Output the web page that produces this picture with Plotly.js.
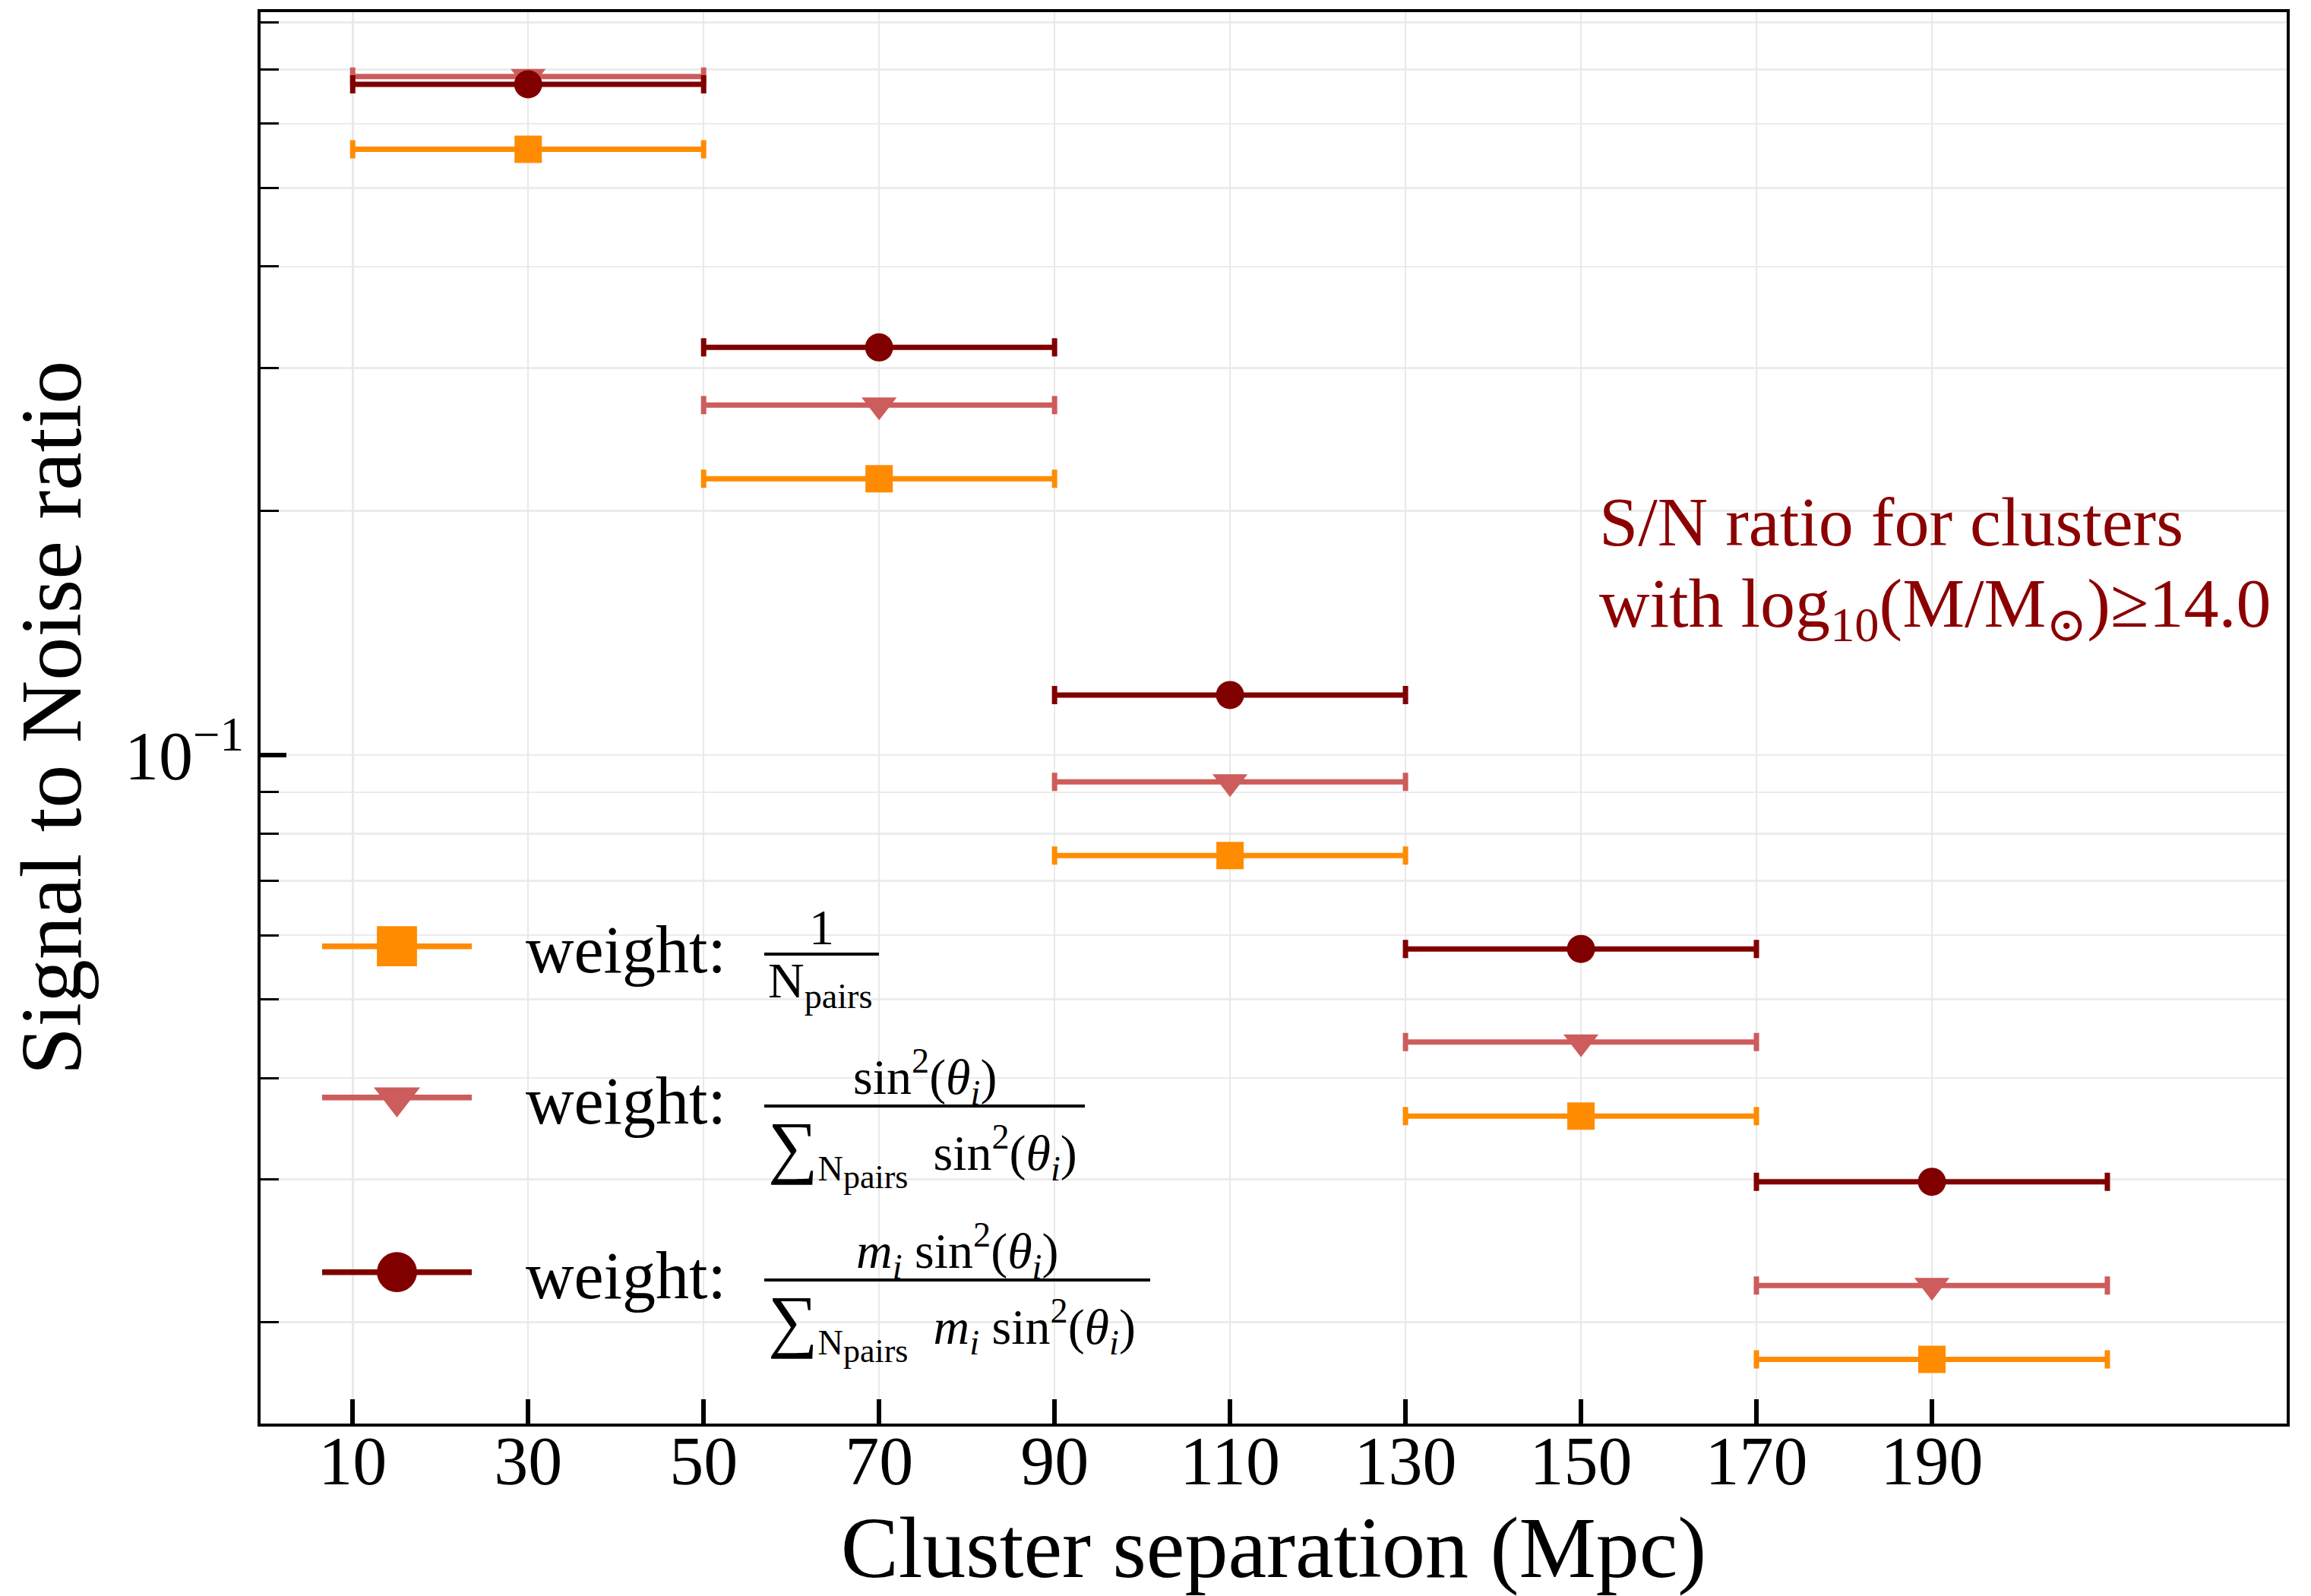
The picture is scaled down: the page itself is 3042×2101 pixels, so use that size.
<!DOCTYPE html>
<html>
<head>
<meta charset="utf-8">
<script src="https://cdn.plot.ly/plotly-3.0.1.min.js"></script>
<style>html,body{margin:0;padding:0;background:#fff;}#chart{width:3042px;height:2101px;}</style>
</head>
<body>
<div id="chart"></div>
<script>
// ---- data ----
const separation = [30, 70, 110, 150, 190];          // bin centres (Mpc)
const binHalfWidth = [20, 20, 20, 20, 20];            // horizontal error (bin half width)
const snrInvNpairs = [0.558, 0.219, 0.0752, 0.0359, 0.0180];   // weight 1/Npairs
const snrSin2 = [0.686, 0.270, 0.0927, 0.0443, 0.0222];        // weight sin^2
const snrMassSin2 = [0.671, 0.318, 0.1186, 0.0577, 0.0298];    // weight m sin^2
const xTickVals = [10, 30, 50, 70, 90, 110, 130, 150, 170, 190];
const yMajorTicks = [0.1];
const yMajorText = ['10<sup>−1</sup>'];
const yMinorTicks = [0.02, 0.03, 0.04, 0.05, 0.06, 0.07, 0.08, 0.09, 0.2, 0.3, 0.4, 0.5, 0.6, 0.7, 0.8];
const legendLabel = '\u2002\u00a0weight:';

// ---- geometry helpers ----
const W = 3042, H = 2101, ML = 343, MR = 32, MT = 16, MB = 227;
const PW = W - ML - MR, PH = H - MT - MB;
const px = v => (v - ML) / PW;
const py = v => (H - MB - v) / PH;

const FONT = 'Liberation Serif, DejaVu Serif, serif';
const cOrange = '#ff8c00', cPink = '#cd5c5c', cDark = '#800000', cText = '#8b0000';

function dataTrace(y, color, symbol, size) {
  return {
    type: 'scatter', mode: 'markers', x: separation, y: y, showlegend: false,
    marker: {symbol: symbol, size: size, color: color, line: {width: 0}},
    error_x: {type: 'data', array: binHalfWidth, symmetric: true, color: color, thickness: 7, width: 12},
    cliponaxis: false, hoverinfo: 'skip'
  };
}
function legendTrace(color, symbol, legendId) {
  return {
    type: 'scatter', mode: 'lines+markers', x: [null], y: [null], name: legendLabel, legend: legendId,
    line: {color: color, width: 7.5}, marker: {symbol: symbol, size: 16, color: color}, hoverinfo: 'skip'
  };
}

const data = [
  dataTrace(snrInvNpairs, cOrange, 'square', 36),
  dataTrace(snrSin2, cPink, 'triangle-down', 40),
  dataTrace(snrMassSin2, cDark, 'circle', 37),
  legendTrace(cOrange, 'square', 'legend'),
  legendTrace(cPink, 'triangle-down', 'legend2'),
  legendTrace(cDark, 'circle', 'legend3')
];

function legendBox(yc) {
  return {x: px(419), xanchor: 'left', y: py(yc), yanchor: 'middle', itemwidth: 197,
          bgcolor: 'rgba(0,0,0,0)', borderwidth: 0, font: {family: FONT, size: 88, color: '#000'}};
}

const fracFont = {family: FONT, size: 66, color: '#000'};
const SUM = '<span style="font-size:92px">∑</span><sub>N<sub><span style="font-size:44px">pairs</span></sub></sub>';
const SIN = 'sin<sup>2</sup>(<i>θ</i><sub><i>i</i></sub>)';
const MI = '<i>m</i><sub><i>i</i></sub>';
const GAP = '\u00a0\u00a0';

function ann(text, x, y, xanchor, yanchor, font) {
  return {text: text, xref: 'paper', yref: 'paper', x: px(x), y: py(y), xanchor: xanchor, yanchor: yanchor,
          showarrow: false, font: font, align: 'left'};
}
function bar(x0, x1, y) {
  return {type: 'line', xref: 'paper', yref: 'paper', x0: px(x0), x1: px(x1), y0: py(y), y1: py(y),
          line: {color: '#000', width: 4}};
}
const noteFont = {family: FONT, size: 92, color: cText};

const layout = {
  width: W, height: H,
  margin: {l: ML, r: MR, t: MT, b: MB, pad: 0},
  paper_bgcolor: '#fff', plot_bgcolor: '#fff',
  font: {family: FONT, color: '#000'},
  xaxis: {
    range: [-0.5, 230.44], tickmode: 'array', tickvals: xTickVals,
    ticks: 'inside', ticklen: 32, tickwidth: 6, tickcolor: '#000', ticklabelstandoff: -32,
    showline: true, linecolor: '#000', linewidth: 4, mirror: true,
    showgrid: true, gridcolor: '#e9e9e9', gridwidth: 2.5, zeroline: false,
    tickfont: {family: FONT, size: 90, color: '#000'},
    title: {text: 'Cluster separation (Mpc)', font: {family: FONT, size: 114, color: '#000'}, standoff: 64},
    automargin: false
  },
  yaxis: {
    type: 'log', range: [-1.8238, -0.0844], tickmode: 'array', tickvals: yMajorTicks, ticktext: yMajorText,
    ticks: 'inside', ticklen: 34, tickwidth: 6, tickcolor: '#000',
    minor: {tickmode: 'array', tickvals: yMinorTicks, ticks: 'inside', ticklen: 24, tickwidth: 3, tickcolor: '#000',
            showgrid: true, gridcolor: '#ececec', gridwidth: 2.5},
    showline: true, linecolor: '#000', linewidth: 4, mirror: true,
    showgrid: true, gridcolor: '#ececec', gridwidth: 2.5, zeroline: false,
    tickfont: {family: FONT, size: 90, color: '#000'},
    title: {text: 'Signal to Noise ratio', font: {family: FONT, size: 114, color: '#000'}, standoff: 20},
    automargin: false
  },
  legend: legendBox(1246),
  legend2: legendBox(1445),
  legend3: legendBox(1675),
  shapes: [bar(1006, 1157, 1256), bar(1006, 1428, 1456), bar(1006, 1514, 1685)],
  annotations: [
    ann('1', 1081, 1220, 'center', 'middle', fracFont),
    ann('N<sub>pairs</sub>', 1009, 1252, 'left', 'top', fracFont),
    ann(SIN, 1217, 1417, 'center', 'middle', fracFont),
    ann(SUM + GAP + SIN, 1009, 1456, 'left', 'top', fracFont),
    ann(MI + ' ' + SIN, 1260, 1646, 'center', 'middle', fracFont),
    ann(SUM + GAP + MI + ' ' + SIN, 1009, 1685, 'left', 'top', fracFont),
    ann('S/N ratio for clusters', 2103, 687, 'left', 'middle', noteFont),
    ann('with log<sub>10</sub>(M/M<sub>⊙</sub>)≥14.0', 2103, 800, 'left', 'middle', noteFont)
  ]
};

Plotly.newPlot('chart', data, layout, {staticPlot: true, displayModeBar: false}).then(gd => {
  gd.querySelectorAll('.infolayer path.scatterpts').forEach(p => {
    const t = p.getAttribute('transform') || '';
    p.setAttribute('transform', t + ' scale(3.3)');
  });
});
</script>
</body>
</html>
